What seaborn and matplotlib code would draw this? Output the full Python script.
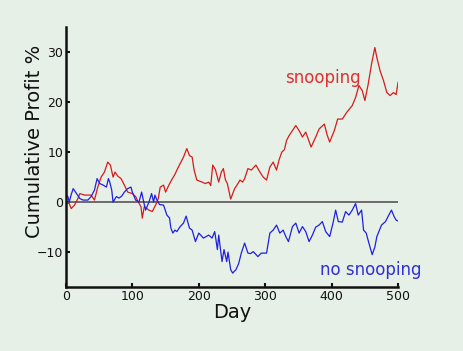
import numpy as np
import pandas as pd
import matplotlib
matplotlib.use("Agg")
import matplotlib.pyplot as plt
import seaborn as sns

# Snooping series (day, cumulative profit %)
snoop_day = [0, 5, 8, 13, 18, 21, 28, 38, 43, 48, 53, 58, 63, 67, 71, 74, 78, 83, 88, 93,
             100, 105, 109, 113, 115, 118, 125, 130, 135, 139, 142, 147, 150, 155, 159, 164,
             167, 172, 177, 182, 186, 190, 193, 197, 205, 210, 215, 218, 221, 225, 230, 234,
             237, 240, 243, 248, 254, 258, 262, 266, 269, 274, 279, 286, 292, 297, 302, 307,
             312, 317, 321, 325, 329, 332, 336, 341, 346, 351, 356, 361, 365, 369, 376, 381,
             389, 393, 397, 404, 409, 416, 423, 431, 436, 441, 446, 450, 455, 460, 465, 468,
             473, 478, 483, 488, 493, 497, 500]
snoop_val = [0, -0.3, -1.3, -0.6, 0.7, 1.7, 1.4, 1.4, 0.4, 3, 5, 6, 8, 7.4, 5, 6, 5.2, 4.7, 3.4, 2,
             1.7, 1.1, 0, -0.9, -3.2, -0.9, -1.6, -1.9, -0.6, 0.7, 3, 3.4, 2, 3.4, 4.4, 5.5,
             6.4, 7.7, 9, 10.7, 9.3, 9, 6.4, 4.4, 4, 3.7, 4, 3.3, 7.4, 6.5, 4.0, 6,
             6.7, 4.5, 3.7, 0.6, 2.7, 3.5, 4.4, 4, 4.7, 6.7, 6.4, 7.4, 6, 5, 4.4, 7,
             8, 6.4, 8.5, 10, 10.5, 12.3, 13.3, 14.3, 15.3, 14.3, 13, 14, 12.5, 11, 13, 14.6,
             15.6, 13.5, 12, 14.3, 16.6, 16.6, 18, 19.3, 20.9, 23.3, 22.3, 20.3, 23.6, 27.6, 30.9, 28.9,
             26.2, 24.3, 21.9, 21.3, 21.9, 21.5, 24]

# No-snooping series
nosnoop_day = [0, 3, 5, 8, 11, 16, 21, 26, 33, 38, 43, 47, 51, 56, 61, 64, 66, 69, 71, 76,
               80, 84, 88, 93, 98, 100, 105, 110, 114, 118, 120, 125, 129, 132, 134, 137, 141,
               147, 152, 156, 158, 161, 164, 167, 172, 177, 181, 186, 190, 195, 200, 207, 215,
               220, 224, 228, 230, 235, 238, 242, 244, 248, 251, 256, 260, 264, 269, 274, 278,
               282, 289, 294, 302, 307, 312, 317, 322, 327, 331, 335, 341, 346, 351, 356, 361,
               366, 371, 376, 381, 386, 391, 397, 402, 406, 410, 416, 421, 426, 431, 436, 440,
               445, 448, 452, 456, 461, 465, 468, 475, 481, 486, 490, 494, 497, 500]
nosnoop_val = [1.4, 1.1, 0, 1.5, 2.7, 1.7, 0.7, 0.4, 0.4, 1.1, 2.4, 4.7, 3.7, 3.4, 3, 4.7, 4, 2.4, 0, 1.1,
               0.8, 1.2, 2, 2.7, 3, 2, 0.4, 0, 2, -0.5, -1.6, 0, 1.7, 0, 1.4, 0.4, -0.5,
               -0.6, -2.6, -3.2, -5.2, -6.2, -5.6, -5.9, -4.9, -4.2, -2.8, -5.2, -5.6, -7.9, -6.2, -7.2, -6.6,
               -7.2, -5.9, -9.5, -6.6, -11.9, -9.5, -11.9, -10, -13.5, -14.2, -13.5, -12.3, -10.2, -8.2, -10.2, -10.3,
               -9.9, -10.9, -10.2, -10.2, -6.2, -5.6, -4.6, -6.2, -5.6, -6.9, -7.9, -4.9, -4.2, -6.2, -4.9, -5.9,
               -7.9, -6.6, -5, -4.6, -3.9, -5.9, -6.9, -4.2, -1.6, -3.9, -4, -1.9, -2.6, -1.6, -0.3, -2.6,
               -1.6, -5.6, -6.2, -8.2, -10.5, -9, -6.9, -4.6, -3.9, -2.6, -1.6, -2.9, -3.6, -3.8]

x_ticks = [0, 100, 200, 300, 400, 500]
y_ticks = [-10, 0, 10, 20, 30]

BG = "#e6f0e6"
RED = "#d41c1c"
BLUE = "#2020e0"

sns.set_style("ticks", {"axes.facecolor": BG, "figure.facecolor": BG})
plt.rcParams['font.family'] = ['DejaVu Sans']

df = pd.concat([
    pd.DataFrame({"Day": snoop_day, "Profit": snoop_val, "Series": "snooping"}),
    pd.DataFrame({"Day": nosnoop_day, "Profit": nosnoop_val, "Series": "no snooping"}),
])

fig = plt.figure(figsize=(4.64, 3.51), dpi=100)
fig.patch.set_facecolor(BG)
ax = fig.add_axes([0.142, 0.182, 0.716, 0.741])
ax.set_facecolor(BG)

ax.axhline(0, xmin=0, xmax=1, color="#555555", lw=1.2, zorder=1)
sns.lineplot(data=df, x="Day", y="Profit", hue="Series",
             palette={"snooping": RED, "no snooping": BLUE},
             linewidth=0.9, legend=False, ax=ax, zorder=2, estimator=None, sort=False)

ax.set_xlim(0, 500)
ax.set_ylim(-17, 35)
ax.set_xticks(x_ticks)
ax.set_yticks(y_ticks)
ax.tick_params(direction="in", length=3, width=1.5, labelsize=9, pad=2, colors="#111111")
for s in ["top", "right"]:
    ax.spines[s].set_visible(False)
for s in ["left", "bottom"]:
    ax.spines[s].set_linewidth(1.8)
    ax.spines[s].set_color("#111111")

ax.set_xlabel("Day", fontsize=14, labelpad=0, color="#111111")
ax.set_ylabel("Cumulative Profit %", fontsize=14, color="#111111", va="center")
ax.yaxis.set_label_coords(-0.095, 0.56)

ax.text(330, 24.8, "snooping", color="#e03030", fontsize=12, ha="left", va="center")
ax.text(383, -13.5, "no snooping", color="#3030d8", fontsize=12, ha="left", va="center")

fig.savefig("out.png", dpi=100, facecolor=BG)
